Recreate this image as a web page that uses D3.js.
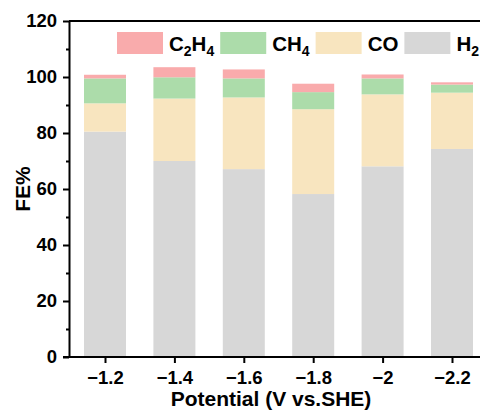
<!DOCTYPE html>
<html>
<head>
<meta charset="utf-8">
<style>
     body {
          margin: 0;
          background: white;
          font-family: "Liberation Sans", Arial, Helvetica, sans-serif;
     }
     svg {
          display: block;
     }
     .axis path, .axis line {
          stroke: #000;
          stroke-width: 2px;
     }
     .axis text {
          font-size: 18.5px;
          font-weight: bold;
          fill: #000;
     }
     .axis-title {
          font-size: 21px;
          font-weight: bold;
          text-anchor: middle;
     }
     .legend text {
          font-size: 20.5px;
          font-weight: bold;
     }
</style>
</head>
<body>
<script src="https://d3js.org/d3.v7.min.js"></script>
<script>

     // potentials (V vs. SHE)
     var potentials = [-1.2, -1.4, -1.6, -1.8, -2.0, -2.2];

     // faradaic efficiencies, %
     var h2   = [80.5, 70.0, 67.1, 58.2, 68.1, 74.3];
     var co   = [10.1, 22.3, 25.6, 30.3, 25.7, 20.1];
     var ch4  = [ 8.9,  7.6,  6.8,  6.1,  5.7,  2.9];
     var c2h4 = [ 1.3,  3.6,  3.2,  3.0,  1.4,  0.8];

     var yTicks = [0, 20, 40, 60, 80, 100, 120];

     var series = [
          {key: "H2",   label: ["H", "2"],           values: h2,   color: "#d7d7d7"},
          {key: "CO",   label: ["CO"],               values: co,   color: "#f8e5bf"},
          {key: "CH4",  label: ["CH", "4"],          values: ch4,  color: "#acdcaa"},
          {key: "C2H4", label: ["C", "2", "H", "4"], values: c2h4, color: "#f9abac"}
     ];

     var width = 480, height = 412;
     var plotLeft = 69, plotTop = 21, plotBottom = 357;

     var svg = d3.select("body").append("svg")
          .attr("width", width)
          .attr("height", height);

     var x = d3.scaleLinear()
          .domain([-1.2, -2.2])
          .range([105, 452]);

     var y = d3.scaleLinear()
          .domain([0, 120])
          .range([plotBottom, plotTop]);

     var barWidth = 42;

     // stack the series
     var rows = potentials.map(function(p, i) {
          var r = {potential: p};
          series.forEach(function(s) { r[s.key] = s.values[i]; });
          return r;
     });
     var stacked = d3.stack().keys(series.map(function(s) { return s.key; }))(rows);

     svg.append("g").selectAll("g")
          .data(stacked)
       .enter().append("g")
          .attr("fill", function(d, i) { return series[i].color; })
       .selectAll("rect")
          .data(function(d) { return d; })
       .enter().append("rect")
          .attr("x", function(d) { return x(d.data.potential) - barWidth / 2; })
          .attr("width", barWidth)
          .attr("y", function(d) { return y(d[1]); })
          .attr("height", function(d) { return y(d[0]) - y(d[1]); });

     // top frame line
     svg.append("line")
          .attr("x1", plotLeft).attr("x2", width)
          .attr("y1", plotTop).attr("y2", plotTop)
          .attr("stroke", "#000")
          .attr("stroke-width", 2);

     // minor y ticks
     svg.append("g")
          .attr("class", "axis")
          .attr("transform", "translate(" + plotLeft + ",0)")
          .call(d3.axisLeft(y).tickValues(d3.range(10, 120, 20)).tickSize(3).tickFormat(""))
          .select(".domain").remove();

     svg.append("g")
          .attr("class", "y axis")
          .attr("transform", "translate(" + plotLeft + ",0)")
          .call(d3.axisLeft(y).tickValues(yTicks).tickSize(6).tickSizeOuter(0).tickPadding(6));

     var xAxis = svg.append("g")
          .attr("class", "x axis")
          .attr("transform", "translate(0," + plotBottom + ")")
          .call(d3.axisBottom(x).tickValues(potentials).tickSize(6).tickSizeOuter(0).tickPadding(8)
               .tickFormat(d3.format("")));
     xAxis.select(".domain").attr("d", "M" + (plotLeft - 6) + ",0H" + width);

     svg.append("text")
          .attr("class", "axis-title")
          .attr("x", 271)
          .attr("y", 406)
          .text("Potential (V vs.SHE)");

     svg.append("text")
          .attr("class", "axis-title")
          .attr("transform", "translate(30," + y(60) + ") rotate(-90)")
          .text("FE%");

     // legend, drawn in reverse stacking order
     var legend = svg.append("g").attr("class", "legend");
     var lx = 117;
     series.slice().reverse().forEach(function(s) {
          legend.append("rect")
               .attr("x", lx).attr("y", 32)
               .attr("width", 46).attr("height", 22)
               .attr("fill", s.color);
          var t = legend.append("text")
               .attr("x", lx + 52)
               .attr("y", 51);
          s.label.forEach(function(part, j) {
               var sub = /^[0-9]$/.test(part);
               t.append("tspan")
                    .attr("font-size", sub ? "14px" : null)
                    .attr("dy", sub ? 5 : (j > 0 ? -5 : 0))
                    .text(part);
          });
          lx = lx + 52 + t.node().getComputedTextLength() + 6;
     });
</script>
</body>
</html>
